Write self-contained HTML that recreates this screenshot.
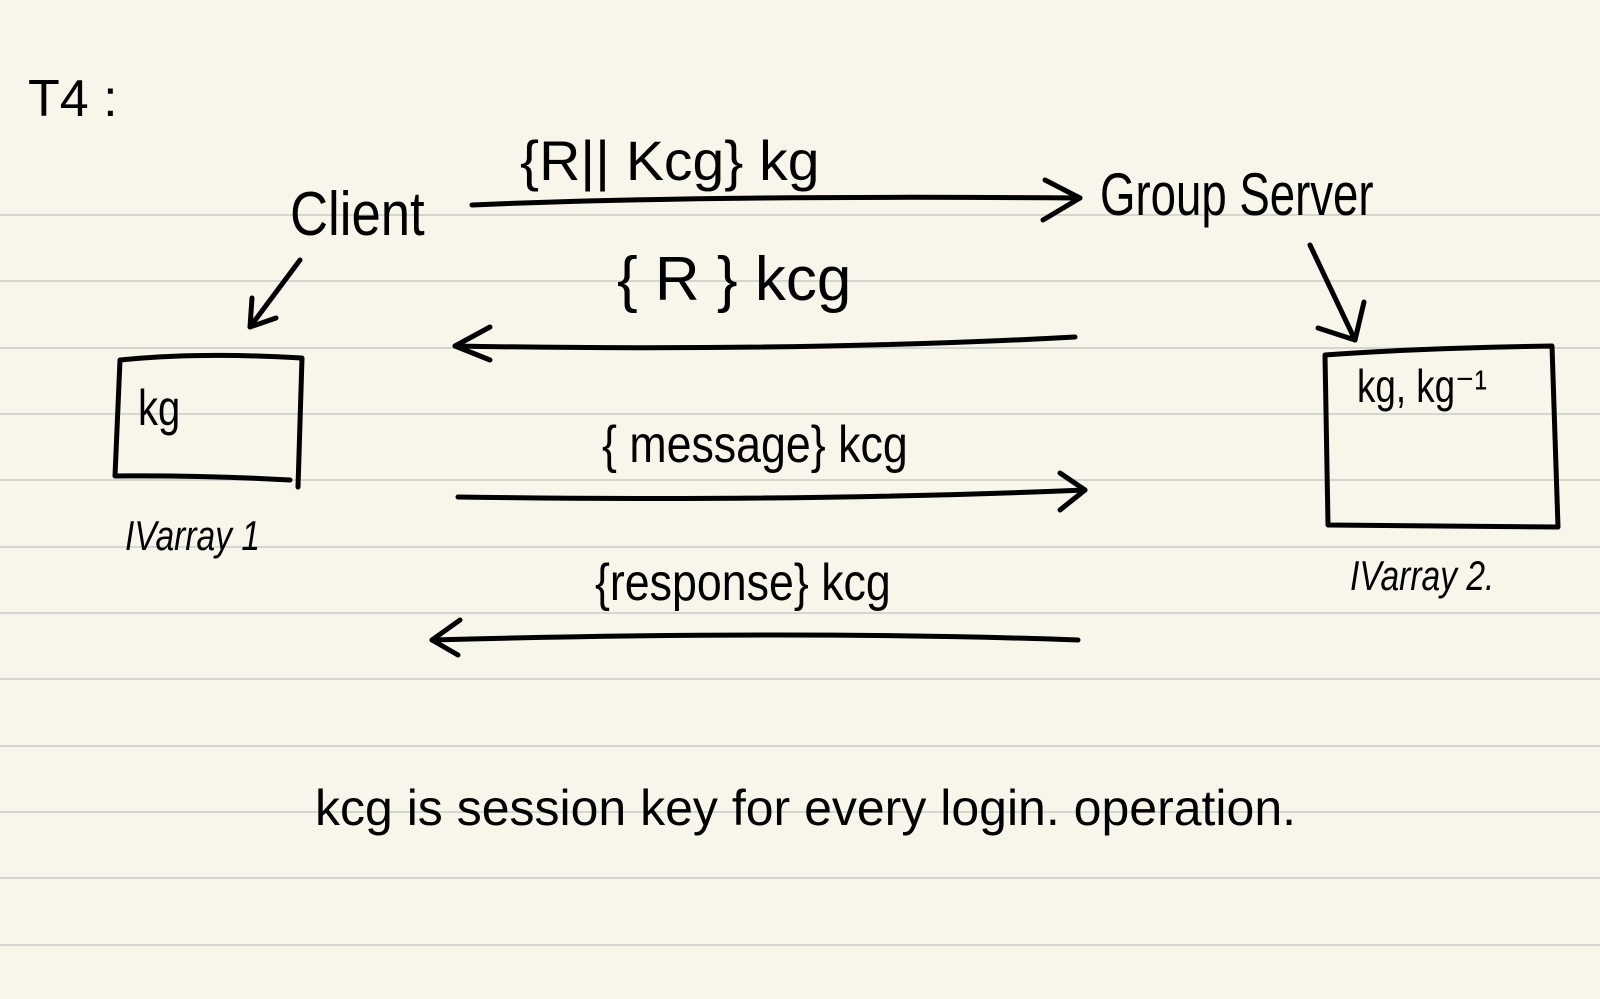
<!DOCTYPE html>
<html><head><meta charset="utf-8"><style>
html,body{margin:0;padding:0;background:#f8f6ea;}
svg{display:block}
text{font-family:"Liberation Sans",sans-serif;fill:#000;}
</style></head><body>
<svg width="1600" height="999" viewBox="0 0 1600 999" xmlns="http://www.w3.org/2000/svg">
<rect width="1600" height="999" fill="#f8f6ea"/>
<g stroke="#d6d6d0" stroke-width="2">
<line x1="0" y1="215" x2="1600" y2="215"/>
<line x1="0" y1="281" x2="1600" y2="281"/>
<line x1="0" y1="348" x2="1600" y2="348"/>
<line x1="0" y1="414" x2="1600" y2="414"/>
<line x1="0" y1="480" x2="1600" y2="480"/>
<line x1="0" y1="547" x2="1600" y2="547"/>
<line x1="0" y1="613" x2="1600" y2="613"/>
<line x1="0" y1="679" x2="1600" y2="679"/>
<line x1="0" y1="746" x2="1600" y2="746"/>
<line x1="0" y1="812" x2="1600" y2="812"/>
<line x1="0" y1="878" x2="1600" y2="878"/>
<line x1="0" y1="945" x2="1600" y2="945"/>
</g>
<g fill="none" stroke="#000" stroke-width="5" stroke-linecap="round" stroke-linejoin="round">
<path d="M472 205 Q700 195 1080 198"/>
<path d="M1045 180 L1080 198 L1043 220"/>
<path d="M1075 337 Q800 352 455 346"/>
<path d="M490 327 L455 346 L490 360"/>
<path d="M458 497 Q800 502 1085 490"/>
<path d="M1060 473 L1085 490 L1060 510"/>
<path d="M1078 640 Q800 630 432 640"/>
<path d="M460 620 L432 640 L458 655"/>
<path d="M300 260 L250 327"/>
<path d="M252 298 L250 327 L276 318"/>
<path d="M1310 245 L1355 340"/>
<path d="M1318 328 L1355 340 L1364 302"/>
<path d="M120 360 Q200 352 302 358 L298 487 M290 480 Q200 475 115 476 L120 360"/>
<path d="M1325 355 Q1420 348 1552 346 L1558 527 L1328 525 L1325 355"/>
</g>
<text x="28" y="116" font-size="52">T4 :</text>
<text x="290" y="235" font-size="62" transform="translate(290,235) scale(0.85,1) translate(-290,-235)">Client</text>
<text x="1100" y="215" font-size="60" transform="translate(1100,215) scale(0.76,1) translate(-1100,-215)">Group Server</text>
<text x="520" y="180" font-size="56" transform="translate(520,180) scale(1.02,1) translate(-520,-180)">{R|| Kcg} kg</text>
<text x="617" y="300" font-size="62" transform="translate(617,300) scale(1.0,1) translate(-617,-300)">{ R } kcg</text>
<text x="602" y="462" font-size="52" transform="translate(602,462) scale(0.86,1) translate(-602,-462)">{ message} kcg</text>
<text x="595" y="600" font-size="52" transform="translate(595,600) scale(0.86,1) translate(-595,-600)">{response} kcg</text>
<text x="138" y="425" font-size="50" transform="translate(138,425) scale(0.8,1) translate(-138,-425)">kg</text>
<text x="1357" y="402" font-size="46" transform="translate(1357,402) scale(0.8,1) translate(-1357,-402)">kg, kg⁻¹</text>
<text x="125" y="550" font-size="42" font-style="italic" transform="translate(125,550) scale(0.8,1) translate(-125,-550)">IVarray 1</text>
<text x="1350" y="590" font-size="42" font-style="italic" transform="translate(1350,590) scale(0.8,1) translate(-1350,-590)">IVarray 2.</text>
<text x="315" y="825" font-size="50" transform="translate(315,825) scale(1.0,1) translate(-315,-825)">kcg is session key for every  login. operation.</text>
</svg>
</body></html>
